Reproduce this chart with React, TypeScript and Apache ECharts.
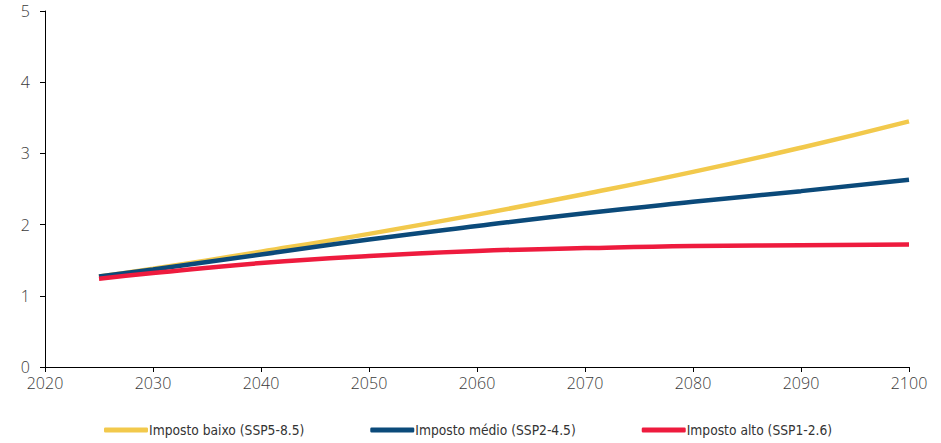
import React, { useEffect, useRef } from "react";
import * as echarts from "echarts";

const years = [2025, 2030, 2040, 2050, 2060, 2070, 2080, 2090, 2100];
const baixo = [1.27, 1.38, 1.62, 1.87, 2.14, 2.43, 2.74, 3.08, 3.45];
const medio = [1.27, 1.37, 1.58, 1.79, 1.98, 2.16, 2.32, 2.47, 2.63];
const alto = [1.24, 1.32, 1.46, 1.56, 1.63, 1.67, 1.70, 1.71, 1.72];
const seriesNames = [
  "Imposto baixo (SSP5-8.5)",
  "Imposto médio (SSP2-4.5)",
  "Imposto alto (SSP1-2.6)",
];
const colors = ["#F2C94C", "#0B4A7A", "#EE1B3E"];

export default function App() {
  const ref = useRef<HTMLDivElement>(null);
  useEffect(() => {
    const chart = echarts.init(ref.current!, null, { renderer: "svg" });
    const mk = (name: string, vals: number[], color: string) => ({
      name,
      type: "line",
      data: years.map((y, i) => [y, vals[i]]),
      smooth: true,
      showSymbol: false,
      lineStyle: { width: 4.5, color },
      itemStyle: { color },
    });
    chart.setOption({
      animation: false,
      grid: {
        left: 45,
        right: 32,
        top: 11,
        bottom: 76,
        containLabel: false,
        outerBoundsMode: "none",
      },
      xAxis: {
        type: "value",
        min: 2020,
        max: 2100,
        interval: 10,
        splitLine: { show: false },
        axisLine: { lineStyle: { color: "#000", width: 1 } },
        axisTick: { show: true, length: 5, lineStyle: { color: "#000", width: 1 } },
        axisLabel: {
          color: "#3a3a3a",
          fontFamily: "Open Sans",
          fontSize: 16,
          fontWeight: 300,
          margin: 8,
          formatter: (v: number) => String(v),
        },
      },
      yAxis: {
        type: "value",
        min: 0,
        max: 5,
        interval: 1,
        splitLine: { show: false },
        axisLine: { show: true, lineStyle: { color: "#000", width: 1 } },
        axisTick: { show: true, inside: false, length: 5, lineStyle: { color: "#000", width: 1 } },
        axisLabel: {
          color: "#3a3a3a",
          fontFamily: "Open Sans",
          fontSize: 16,
          fontWeight: 300,
          margin: 15,
        },
      },
      legend: {
        top: 418,
        left: 99,
        itemWidth: 44,
        itemHeight: 5,
        itemGap: 66,
        icon: "roundRect",
        textStyle: {
          fontFamily: "'DejaVu Sans Condensed'",
          fontSize: 13.7,
          color: "#333",
          padding: [0, 0, 0, -4],
        },
        data: seriesNames,
      },
      series: [
        mk(seriesNames[0], baixo, colors[0]),
        mk(seriesNames[1], medio, colors[1]),
        mk(seriesNames[2], alto, colors[2]),
      ],
    });
    return () => chart.dispose();
  }, []);
  return (
    <div
      ref={ref}
      style={{ position: "absolute", left: 0, top: 0, width: 941, height: 443 }}
    />
  );
}
